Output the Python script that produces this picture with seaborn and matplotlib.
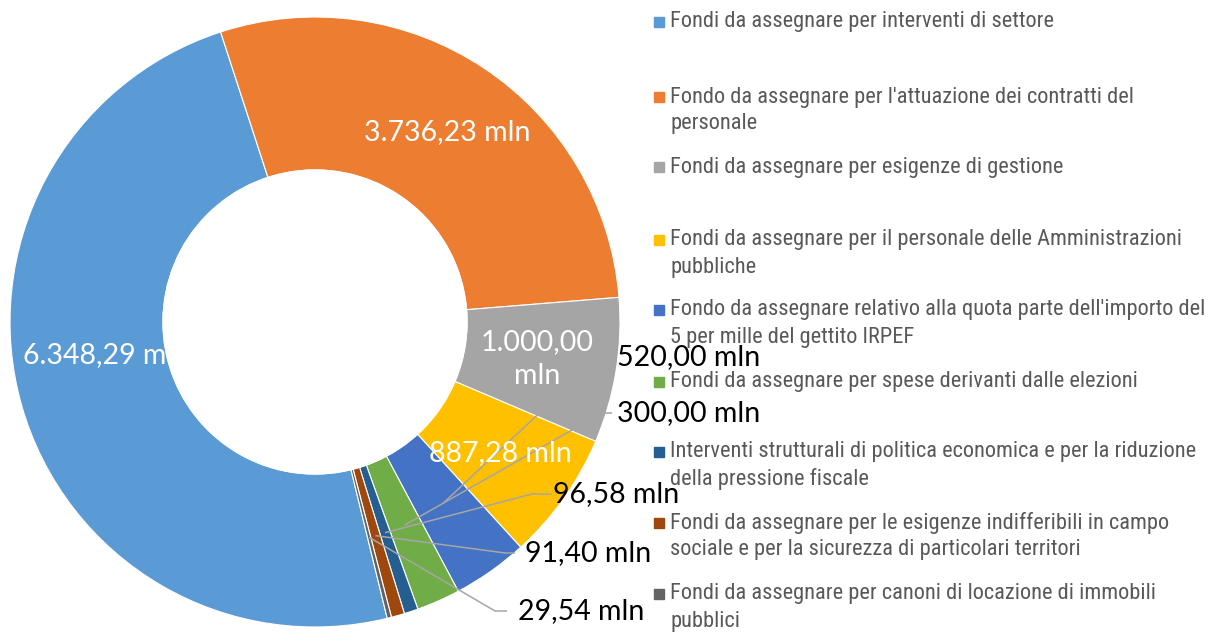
import numpy as np
import matplotlib.pyplot as plt
import seaborn as sns
from matplotlib import font_manager
from matplotlib.patches import Circle, Rectangle

categories = [
    "Fondi da assegnare per interventi di settore",
    "Fondo da assegnare per l'attuazione dei contratti del\npersonale",
    "Fondi da assegnare per esigenze di gestione",
    "Fondi da assegnare per il personale delle Amministrazioni\npubbliche",
    "Fondo da assegnare relativo alla quota parte dell'importo del\n5 per mille del gettito IRPEF",
    "Fondi da assegnare per spese derivanti dalle elezioni",
    "Interventi strutturali di politica economica e per la riduzione\ndella pressione fiscale",
    "Fondi da assegnare per le esigenze indifferibili in campo\nsociale e per la sicurezza di particolari territori",
    "Fondi da assegnare per canoni di locazione di immobili\npubblici",
]
values = [6348.29, 3736.23, 1000.00, 887.28, 520.00, 300.00, 96.58, 91.40, 29.54]
colors = ['#5B9BD5', '#ED7D31', '#A5A5A5', '#FFC000', '#4472C4',
          '#70AD47', '#255E91', '#9E480E', '#636363']


def fmt(v):
    s = f"{v:,.2f}".replace(',', ' ').replace('.', ',').replace(' ', '.')
    return s + ' mln'


W, H = 1206, 633
sns.set_theme(style='white')
fig = plt.figure(figsize=(W / 100, H / 100), dpi=100)
ax = fig.add_axes([0, 0, 1, 1])

cx, cy, R, r_in = 315, H - 322, 305, 152
wedges, _ = ax.pie(values, colors=sns.color_palette(colors), startangle=90 - 166.3,
                   counterclock=False, radius=R, center=(cx, cy),
                   wedgeprops=dict(width=R - r_in, edgecolor='white', linewidth=0.8))
ax.set_xlim(0, W)
ax.set_ylim(0, H)
ax.set_aspect('equal')
ax.axis('off')

lab_font = dict(family=['Lato', 'DejaVu Sans'], fontsize=20.5)

# labels inside the ring (image coords, y from top)
inner_pos = [(106, 355), (447, 132), (537, 359), (500, 453)]
for i, (x, y) in enumerate(inner_pos):
    txt = fmt(values[i])
    if i == 2:
        txt = txt.replace(' ', '\n')
    ax.text(x, H - y, txt, color='white', ha='center', va='center',
            linespacing=1.35, zorder=3, **lab_font)

# hole drawn over the labels (the big label is cut by it)
ax.add_patch(Circle((cx, cy), r_in, color='white', zorder=4))

# labels outside with leader lines
outer_pos = [(617, 357), (617, 413), (553, 494), (525, 553), (518, 611)]
stubs = [[(612, 345)], [(612, 413), (602, 413)], [(552, 494), (532, 494)],
         [(515, 553), (505, 553)], [(507, 611), (495, 611)]]
for k, i in enumerate(range(4, 9)):
    w = wedges[i]
    mid = np.deg2rad((w.theta1 + w.theta2) / 2)
    px, py = cx + 222 * np.cos(mid), cy + 222 * np.sin(mid)
    pts = [(x, H - y) for x, y in stubs[k]] + [(px, py)]
    xs, ys = zip(*pts)
    ax.plot(xs, ys, color='#A6A6A6', lw=1.1, zorder=2, solid_capstyle='butt')
    x, y = outer_pos[k]
    ax.text(x, H - y, fmt(values[i]), color='black', ha='left', va='center',
            zorder=5, **lab_font)

# legend - narrow font if there is one, size fitted to the first line width
names = {f.name for f in font_manager.fontManager.ttflist}
leg_family = 'Liberation Sans'
for cand in ['Liberation Sans Narrow', 'Arial Narrow', 'Roboto Condensed',
             'DejaVu Sans Condensed', 'Open Sans Condensed']:
    if cand in names:
        leg_family = cand
        break
renderer = fig.canvas.get_renderer()
probe = ax.text(0, 0, categories[0], family=leg_family, fontsize=15)
bw = probe.get_window_extent(renderer).width
probe.remove()
leg_size = 15 * 383 / bw

first_y = [22, 97, 167, 240, 310, 382, 452, 523, 594]
for i, lab in enumerate(categories):
    y0 = first_y[i]
    ax.add_patch(Rectangle((654, H - y0 - 5), 10, 10, color=colors[i], zorder=3))
    for j, line in enumerate(lab.split('\n')):
        ax.text(670, H - (y0 + 27 * j), line, color='#595959', ha='left',
                va='center', zorder=3, family=leg_family, fontsize=leg_size)

fig.savefig('out.png', dpi=100)
